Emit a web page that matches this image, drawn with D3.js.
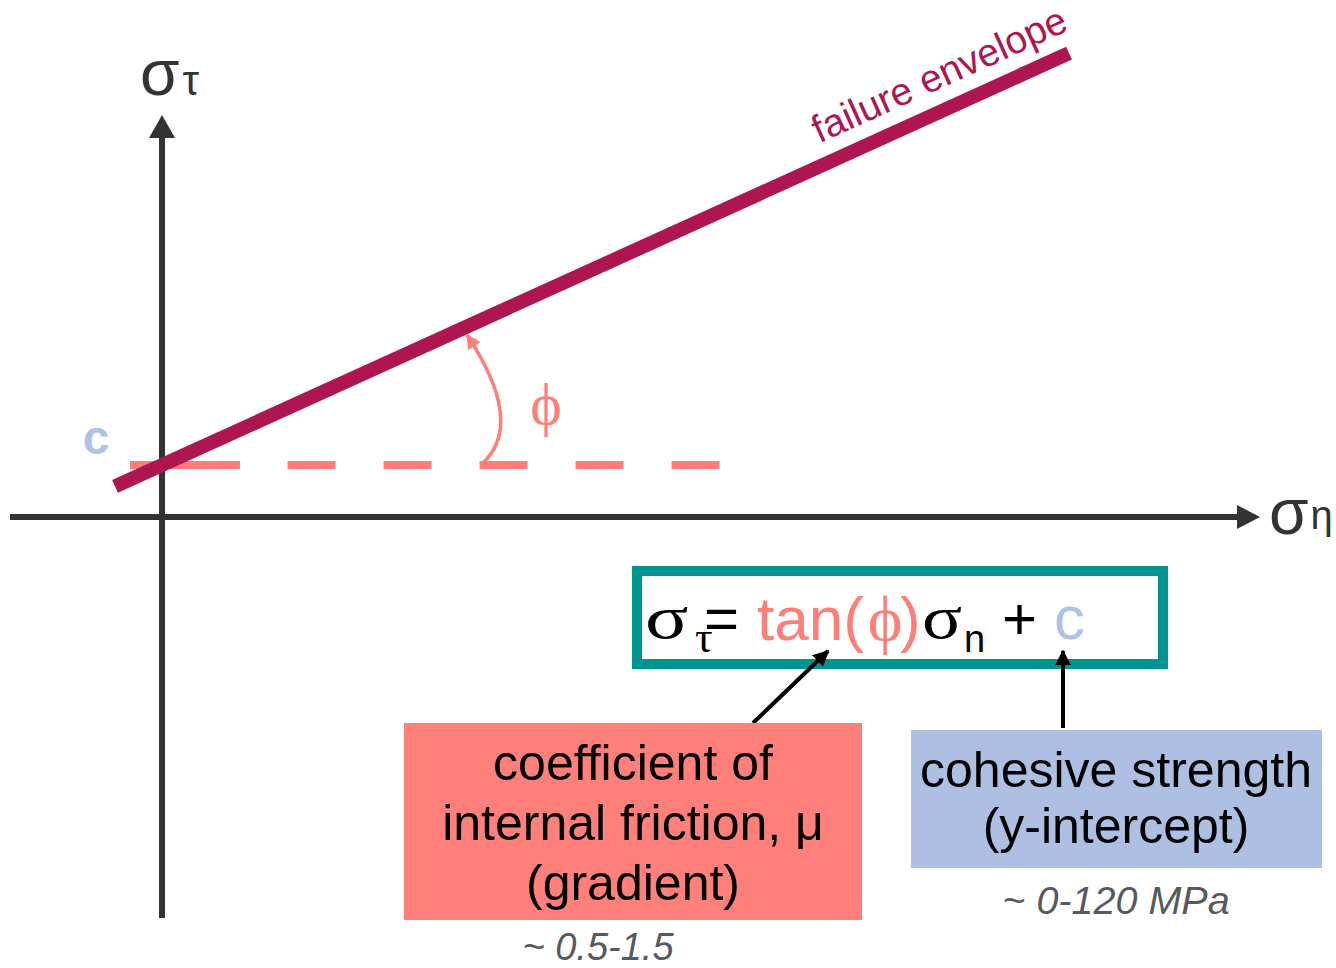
<!DOCTYPE html>
<html><head><meta charset="utf-8">
<script src="https://cdn.jsdelivr.net/npm/d3@7"></script>
<style>body{margin:0;background:#fff} svg{display:block}</style>
</head><body>
<script>
// ---- schematic data (arbitrary stress units) ----
const normalAxisExtent = [-15.2, 109.8];   // σn axis
const shearAxisExtent  = [-40.1, 40.2];    // στ axis
const cohesion = 5.2;                      // c, y-intercept
const frictionSlope = 0.454;               // tan(φ)
const envelopeExtent = [-4.7, 90.7];       // σn range of failure envelope
const cohesionLineExtent = [-3.2, 55.8];   // horizontal reference at c
const angleArc = [[32.2, 5.5], [36.25, 9.55], [30.5, 18.2]]; // start, control, end
const envelopeLabel = "failure envelope";
const axisLabels = [{main: "σ", sub: "τ"}, {main: "σ", sub: "η"}];
const frictionLines = ["coefficient of", "internal friction, μ", "(gradient)"];
const cohesionLines = ["cohesive strength", "(y-intercept)"];
const frictionRangeText = "~ 0.5-1.5";
const cohesionRangeText = "~ 0-120 MPa";

const W = 1336, H = 968;
const C_AXIS = "#333333", C_ENV = "#AD1650", C_SALMON = "#FF7F78",
      C_BLUE = "#AEC2E6", C_BLUEBOX = "#ADBFE3", C_TEAL = "#009490", C_GREY = "#555A60";
const SANS = "'Liberation Sans', Arial, sans-serif";
const SERIF = "'Liberation Serif', 'Times New Roman', serif";

const svg = d3.select("body").append("svg").attr("width", W).attr("height", H);

// equal px/unit in both directions so the angle is preserved
const x = d3.scaleLinear().domain([0, 1]).range([162, 172]);
const y = d3.scaleLinear().domain([0, 1]).range([517, 507]);

const defs = svg.append("defs");
defs.append("marker").attr("id", "arcHead").attr("viewBox", "0 0 10 10")
  .attr("refX", 9).attr("refY", 5).attr("markerWidth", 4.2).attr("markerHeight", 4.2)
  .attr("markerUnits", "strokeWidth").attr("orient", "auto")
  .append("path").attr("d", "M0,0 L10,5 L0,10 Z").attr("fill", C_SALMON);
defs.append("marker").attr("id", "blackHead").attr("viewBox", "0 0 10 10")
  .attr("refX", 9).attr("refY", 5).attr("markerWidth", 4).attr("markerHeight", 4)
  .attr("markerUnits", "strokeWidth").attr("orient", "auto")
  .append("path").attr("d", "M0,0 L10,5 L0,10 Z").attr("fill", "#000");

// ---- axes ----
const g = svg.append("g");
// horizontal σn axis
g.append("line").attr("x1", x(normalAxisExtent[0])).attr("x2", x(normalAxisExtent[1]) - 22)
  .attr("y1", y(0)).attr("y2", y(0)).attr("stroke", C_AXIS).attr("stroke-width", 6);
g.append("path").attr("fill", C_AXIS).attr("d", (() => {
  const tx = x(normalAxisExtent[1]), ty = y(0);
  return `M${tx},${ty} L${tx - 23},${ty - 12} L${tx - 23},${ty + 12} Z`;
})());
// vertical στ axis
g.append("line").attr("x1", x(0)).attr("x2", x(0))
  .attr("y1", y(shearAxisExtent[0])).attr("y2", y(shearAxisExtent[1]) + 20)
  .attr("stroke", C_AXIS).attr("stroke-width", 6);
g.append("path").attr("fill", C_AXIS).attr("d", (() => {
  const tx = x(0), ty = y(shearAxisExtent[1]);
  return `M${tx},${ty} L${tx - 13},${ty + 23} L${tx + 13},${ty + 23} Z`;
})());

// axis labels
const lblT = g.append("text").attr("x", 140).attr("y", 95).attr("font-family", SANS).attr("fill", C_AXIS);
lblT.append("tspan").attr("font-size", 64).text(axisLabels[0].main);
lblT.append("tspan").attr("font-size", 42).attr("dx", 3).text(axisLabels[0].sub);
const lblN = g.append("text").attr("x", 1269).attr("y", 534).attr("font-family", SANS).attr("fill", C_AXIS);
lblN.append("tspan").attr("font-size", 64).text(axisLabels[1].main);
lblN.append("tspan").attr("font-size", 40).attr("dx", 2).attr("dy", -5).text(axisLabels[1].sub);

// ---- cohesion reference (dashed) ----
g.append("line")
  .attr("x1", x(cohesionLineExtent[0])).attr("x2", x(cohesionLineExtent[1]))
  .attr("y1", y(cohesion)).attr("y2", y(cohesion))
  .attr("stroke", C_SALMON).attr("stroke-width", 8)
  .attr("stroke-dasharray", "110,47.5,48,48,48,48,48,48,48,48,48,48");

// ---- failure envelope ----
const env = envelopeExtent.map(s => [s, cohesion + frictionSlope * s]);
g.append("path").datum(env)
  .attr("d", d3.line().x(d => x(d[0])).y(d => y(d[1])))
  .attr("stroke", C_ENV).attr("stroke-width", 14).attr("fill", "none");

// label along envelope
const theta = Math.atan(frictionSlope);
const angDeg = -theta * 180 / Math.PI;
const lblS = 66.6, perp = 21;
const lx = x(lblS) - perp * Math.sin(theta);
const ly = y(cohesion + frictionSlope * lblS) - perp * Math.cos(theta);
g.append("text").attr("transform", `translate(${lx},${ly}) rotate(${angDeg})`)
  .attr("font-family", SANS).attr("font-size", 39).attr("fill", C_ENV).text(envelopeLabel);

// "c" label
g.append("text").attr("x", 96).attr("y", 454).attr("text-anchor", "middle")
  .attr("font-family", SANS).attr("font-size", 48).attr("font-weight", "bold")
  .attr("fill", C_BLUE).text("c");

// ---- angle arc ----
const p = d3.path();
p.moveTo(x(angleArc[0][0]), y(angleArc[0][1]));
p.quadraticCurveTo(x(angleArc[1][0]), y(angleArc[1][1]), x(angleArc[2][0]), y(angleArc[2][1]));
g.append("path").attr("d", p.toString()).attr("fill", "none")
  .attr("stroke", C_SALMON).attr("stroke-width", 3.5).attr("marker-end", "url(#arcHead)");
g.append("text").attr("x", 546).attr("y", 424).attr("text-anchor", "middle")
  .attr("font-family", SERIF).attr("font-size", 60).attr("fill", C_SALMON).text("ϕ");

// ---- equation box ----
g.append("rect").attr("x", 637).attr("y", 571).attr("width", 526).attr("height", 93)
  .attr("fill", "#fff").attr("stroke", C_TEAL).attr("stroke-width", 10);
const eq = g.append("g");
eq.append("text").attr("transform", "translate(645,638) scale(1.3,1)")
  .attr("font-family", SERIF).attr("font-size", 62).attr("fill", "#000").text("σ");
const subEq = eq.append("text").attr("x", 695).attr("y", 652).attr("fill", "#000");
subEq.append("tspan").attr("font-family", SERIF).attr("font-size", 44).text("τ");
subEq.append("tspan").attr("x", 704).attr("dy", -13).attr("font-family", SANS)
  .attr("font-size", 60).text("=");
eq.append("text").attr("x", 757).attr("y", 640).attr("font-family", SANS)
  .attr("font-size", 62).attr("fill", C_SALMON).text("tan(");
eq.append("text").attr("x", 885).attr("y", 641).attr("text-anchor", "middle").attr("font-family", SERIF)
  .attr("font-size", 66).attr("fill", C_SALMON).text("ϕ");
eq.append("text").attr("x", 900).attr("y", 640).attr("font-family", SANS)
  .attr("font-size", 62).attr("fill", C_SALMON).text(")");
eq.append("text").attr("transform", "translate(922,638) scale(1.2,1)")
  .attr("font-family", SERIF).attr("font-size", 62).attr("fill", "#000").text("σ");
eq.append("text").attr("x", 964).attr("y", 652).attr("font-family", SANS)
  .attr("font-size", 38).attr("fill", "#000").text("n");
eq.append("text").attr("x", 1002).attr("y", 639).attr("font-family", SANS)
  .attr("font-size", 60).attr("fill", "#000").text("+");
eq.append("text").attr("x", 1054).attr("y", 639).attr("font-family", SANS)
  .attr("font-size", 62).attr("fill", C_BLUE).text("c");

// ---- pointer arrows ----
g.append("line").attr("x1", 753).attr("y1", 723).attr("x2", 828).attr("y2", 651)
  .attr("stroke", "#000").attr("stroke-width", 4).attr("marker-end", "url(#blackHead)");
g.append("line").attr("x1", 1063).attr("y1", 728).attr("x2", 1063).attr("y2", 651)
  .attr("stroke", "#000").attr("stroke-width", 4).attr("marker-end", "url(#blackHead)");

// ---- explanation boxes ----
g.append("rect").attr("x", 404).attr("y", 723).attr("width", 458).attr("height", 197).attr("fill", "#FF7F7A");
g.selectAll("text.fr").data(frictionLines).join("text").attr("class", "fr")
  .attr("x", 633).attr("y", (d, i) => 780 + i * 60).attr("text-anchor", "middle")
  .attr("font-family", SANS).attr("font-size", 50).attr("fill", "#000").text(d => d);

g.append("rect").attr("x", 911).attr("y", 730).attr("width", 411).attr("height", 138).attr("fill", C_BLUEBOX);
g.selectAll("text.co").data(cohesionLines).join("text").attr("class", "co")
  .attr("x", 1116).attr("y", (d, i) => 787 + i * 56).attr("text-anchor", "middle")
  .attr("font-family", SANS).attr("font-size", 50).attr("fill", "#000").text(d => d);

g.append("text").attr("x", 598).attr("y", 960).attr("text-anchor", "middle")
  .attr("font-family", SANS).attr("font-style", "italic").attr("font-size", 38)
  .attr("fill", C_GREY).text(frictionRangeText);
g.append("text").attr("x", 1116).attr("y", 914).attr("text-anchor", "middle")
  .attr("font-family", SANS).attr("font-style", "italic").attr("font-size", 39.5)
  .attr("fill", C_GREY).text(cohesionRangeText);
</script>
</body></html>
